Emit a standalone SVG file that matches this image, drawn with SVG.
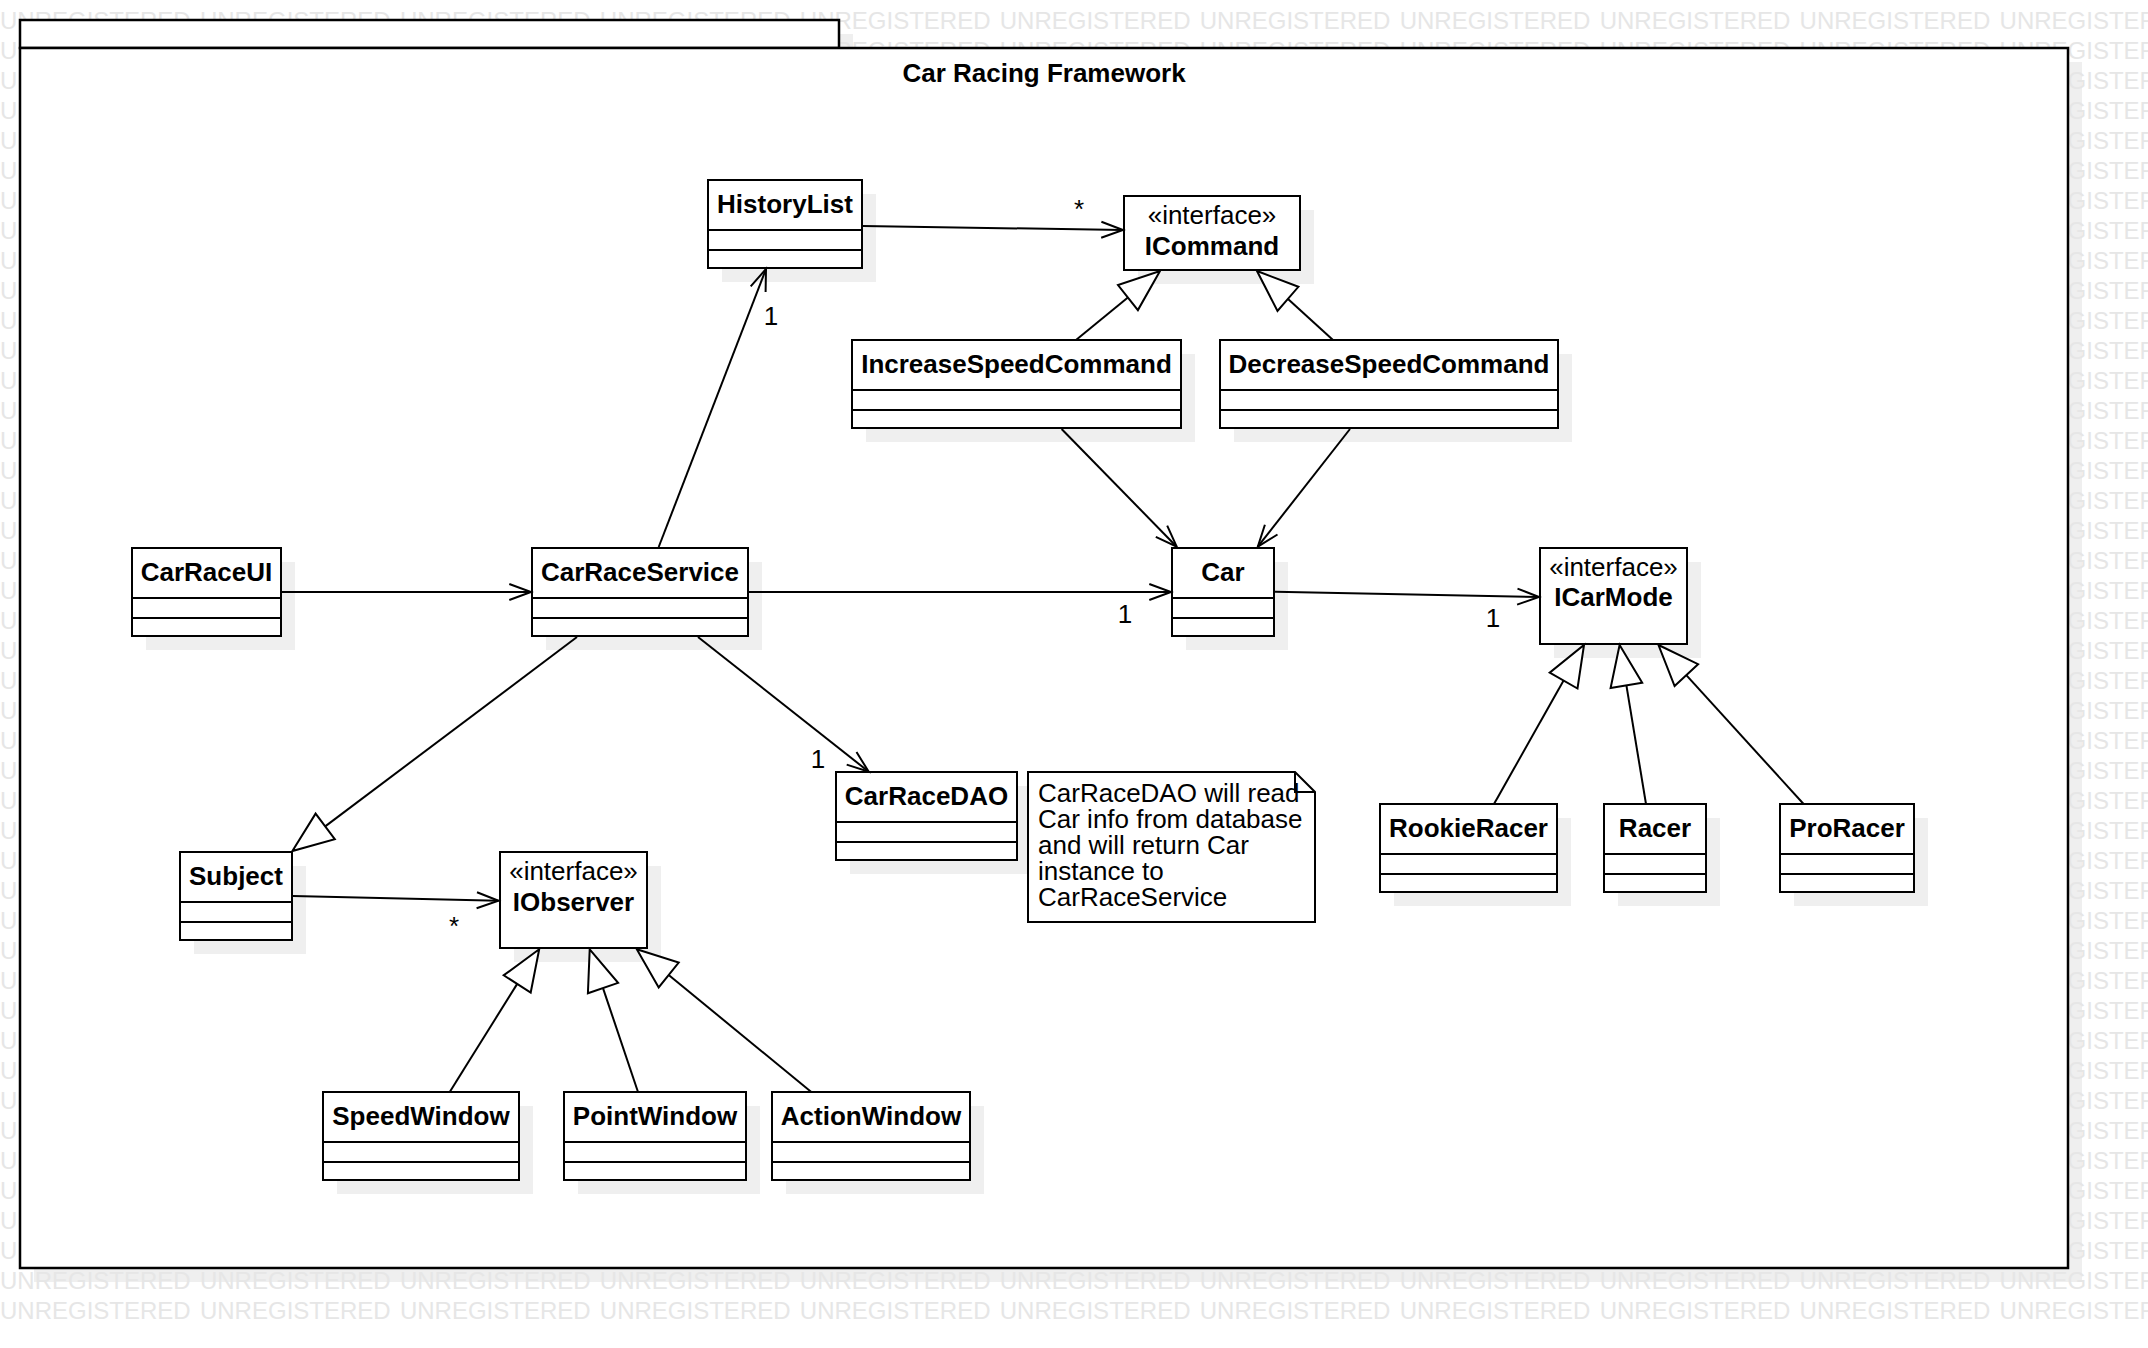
<svg xmlns="http://www.w3.org/2000/svg" xmlns:xlink="http://www.w3.org/1999/xlink" width="2148" height="1348" viewBox="0 0 2148 1348">
<style>
.bg{fill:#fff}
.shadow{fill:#efefef}
.box{fill:#fff;stroke:#000;stroke-width:2}
.pkg{fill:#fff;stroke:#000;stroke-width:2.5}
.sep{stroke:#000;stroke-width:2}
.name{font-family:"Liberation Sans",Arial,sans-serif;font-size:26px;font-weight:bold;text-anchor:middle;fill:#000}
.stereo{font-family:"Liberation Sans",Arial,sans-serif;font-size:26px;text-anchor:middle;fill:#000}
.lbl{font-family:"Liberation Sans",Arial,sans-serif;font-size:26px;text-anchor:middle;fill:#000}
.note{font-family:"Liberation Sans",Arial,sans-serif;font-size:26px;fill:#000}
.edge{stroke:#000;stroke-width:2;fill:none}
.tri{fill:#fff;stroke:#000;stroke-width:2;stroke-linejoin:miter}
.wm{font-family:"Liberation Sans",Arial,sans-serif;font-size:24px;fill:#e6e6e6;word-spacing:2.6px}
</style>
<defs>
<text id="wmrow" class="wm" x="0" y="0">UNREGISTERED UNREGISTERED UNREGISTERED UNREGISTERED UNREGISTERED UNREGISTERED UNREGISTERED UNREGISTERED UNREGISTERED UNREGISTERED UNREGISTERED</text>
</defs>
<rect class="bg" x="0" y="0" width="2148" height="1348"/>
<g id="package-shadow">
<rect class="shadow" x="34" y="34" width="819" height="28"/>
<rect class="shadow" x="34" y="62" width="2048" height="1220"/>
</g>
<g id="watermark">
<use xlink:href="#wmrow" y="29"/><use xlink:href="#wmrow" y="59"/><use xlink:href="#wmrow" y="89"/><use xlink:href="#wmrow" y="119"/>
<use xlink:href="#wmrow" y="149"/><use xlink:href="#wmrow" y="179"/><use xlink:href="#wmrow" y="209"/><use xlink:href="#wmrow" y="239"/>
<use xlink:href="#wmrow" y="269"/><use xlink:href="#wmrow" y="299"/><use xlink:href="#wmrow" y="329"/><use xlink:href="#wmrow" y="359"/>
<use xlink:href="#wmrow" y="389"/><use xlink:href="#wmrow" y="419"/><use xlink:href="#wmrow" y="449"/><use xlink:href="#wmrow" y="479"/>
<use xlink:href="#wmrow" y="509"/><use xlink:href="#wmrow" y="539"/><use xlink:href="#wmrow" y="569"/><use xlink:href="#wmrow" y="599"/>
<use xlink:href="#wmrow" y="629"/><use xlink:href="#wmrow" y="659"/><use xlink:href="#wmrow" y="689"/><use xlink:href="#wmrow" y="719"/>
<use xlink:href="#wmrow" y="749"/><use xlink:href="#wmrow" y="779"/><use xlink:href="#wmrow" y="809"/><use xlink:href="#wmrow" y="839"/>
<use xlink:href="#wmrow" y="869"/><use xlink:href="#wmrow" y="899"/><use xlink:href="#wmrow" y="929"/><use xlink:href="#wmrow" y="959"/>
<use xlink:href="#wmrow" y="989"/><use xlink:href="#wmrow" y="1019"/><use xlink:href="#wmrow" y="1049"/><use xlink:href="#wmrow" y="1079"/>
<use xlink:href="#wmrow" y="1109"/><use xlink:href="#wmrow" y="1139"/><use xlink:href="#wmrow" y="1169"/><use xlink:href="#wmrow" y="1199"/>
<use xlink:href="#wmrow" y="1229"/><use xlink:href="#wmrow" y="1259"/><use xlink:href="#wmrow" y="1289"/><use xlink:href="#wmrow" y="1319"/>
</g>
<g id="package">
<rect class="pkg" x="20" y="20" width="819" height="28"/>
<rect class="pkg" x="20" y="48" width="2048" height="1220"/>
<text class="name" x="1044" y="82">Car Racing Framework</text>
</g>

<g id="HistoryList">
<rect class="shadow" x="722" y="194" width="154" height="88"/>
<rect class="box" x="708" y="180" width="154" height="88"/>
<line class="sep" x1="708" y1="230" x2="862" y2="230"/><line class="sep" x1="708" y1="250" x2="862" y2="250"/>
<text class="name" x="785" y="213">HistoryList</text>
</g>
<g id="ICommand">
<rect class="shadow" x="1138" y="210" width="176" height="74"/>
<rect class="box" x="1124" y="196" width="176" height="74"/>
<text class="stereo" x="1212" y="224">«interface»</text>
<text class="name" x="1212" y="255">ICommand</text>
</g>
<g id="IncreaseSpeedCommand">
<rect class="shadow" x="866" y="354" width="329" height="88"/>
<rect class="box" x="852" y="340" width="329" height="88"/>
<line class="sep" x1="852" y1="390" x2="1181" y2="390"/><line class="sep" x1="852" y1="410" x2="1181" y2="410"/>
<text class="name" x="1016.5" y="373">IncreaseSpeedCommand</text>
</g>
<g id="DecreaseSpeedCommand">
<rect class="shadow" x="1234" y="354" width="338" height="88"/>
<rect class="box" x="1220" y="340" width="338" height="88"/>
<line class="sep" x1="1220" y1="390" x2="1558" y2="390"/><line class="sep" x1="1220" y1="410" x2="1558" y2="410"/>
<text class="name" x="1389" y="373">DecreaseSpeedCommand</text>
</g>
<g id="CarRaceUI">
<rect class="shadow" x="146" y="562" width="149" height="88"/>
<rect class="box" x="132" y="548" width="149" height="88"/>
<line class="sep" x1="132" y1="598" x2="281" y2="598"/><line class="sep" x1="132" y1="618" x2="281" y2="618"/>
<text class="name" x="206.5" y="581">CarRaceUI</text>
</g>
<g id="CarRaceService">
<rect class="shadow" x="546" y="562" width="216" height="88"/>
<rect class="box" x="532" y="548" width="216" height="88"/>
<line class="sep" x1="532" y1="598" x2="748" y2="598"/><line class="sep" x1="532" y1="618" x2="748" y2="618"/>
<text class="name" x="640" y="581">CarRaceService</text>
</g>
<g id="Car">
<rect class="shadow" x="1186" y="562" width="102" height="88"/>
<rect class="box" x="1172" y="548" width="102" height="88"/>
<line class="sep" x1="1172" y1="598" x2="1274" y2="598"/><line class="sep" x1="1172" y1="618" x2="1274" y2="618"/>
<text class="name" x="1223" y="581">Car</text>
</g>
<g id="ICarMode">
<rect class="shadow" x="1554" y="562" width="147" height="96"/>
<rect class="box" x="1540" y="548" width="147" height="96"/>
<text class="stereo" x="1613.5" y="576">«interface»</text>
<text class="name" x="1613.5" y="606">ICarMode</text>
</g>
<g id="RookieRacer">
<rect class="shadow" x="1394" y="818" width="177" height="88"/>
<rect class="box" x="1380" y="804" width="177" height="88"/>
<line class="sep" x1="1380" y1="854" x2="1557" y2="854"/><line class="sep" x1="1380" y1="874" x2="1557" y2="874"/>
<text class="name" x="1468.5" y="837">RookieRacer</text>
</g>
<g id="Racer">
<rect class="shadow" x="1618" y="818" width="102" height="88"/>
<rect class="box" x="1604" y="804" width="102" height="88"/>
<line class="sep" x1="1604" y1="854" x2="1706" y2="854"/><line class="sep" x1="1604" y1="874" x2="1706" y2="874"/>
<text class="name" x="1655" y="837">Racer</text>
</g>
<g id="ProRacer">
<rect class="shadow" x="1794" y="818" width="134" height="88"/>
<rect class="box" x="1780" y="804" width="134" height="88"/>
<line class="sep" x1="1780" y1="854" x2="1914" y2="854"/><line class="sep" x1="1780" y1="874" x2="1914" y2="874"/>
<text class="name" x="1847" y="837">ProRacer</text>
</g>
<g id="Subject">
<rect class="shadow" x="194" y="866" width="112" height="88"/>
<rect class="box" x="180" y="852" width="112" height="88"/>
<line class="sep" x1="180" y1="902" x2="292" y2="902"/><line class="sep" x1="180" y1="922" x2="292" y2="922"/>
<text class="name" x="236" y="885">Subject</text>
</g>
<g id="IObserver">
<rect class="shadow" x="514" y="866" width="147" height="96"/>
<rect class="box" x="500" y="852" width="147" height="96"/>
<text class="stereo" x="573.5" y="880">«interface»</text>
<text class="name" x="573.5" y="911">IObserver</text>
</g>
<g id="CarRaceDAO">
<rect class="shadow" x="850" y="786" width="181" height="88"/>
<rect class="box" x="836" y="772" width="181" height="88"/>
<line class="sep" x1="836" y1="822" x2="1017" y2="822"/><line class="sep" x1="836" y1="842" x2="1017" y2="842"/>
<text class="name" x="926.5" y="805">CarRaceDAO</text>
</g>
<g id="Note">
<polygon class="box" points="1028,772 1295,772 1315,792 1315,922 1028,922"/>
<polyline class="edge" points="1295,772 1295,792 1315,792"/>
<text class="note" x="1038" y="802">CarRaceDAO will read</text>
<text class="note" x="1038" y="828">Car info from database</text>
<text class="note" x="1038" y="854">and will return Car</text>
<text class="note" x="1038" y="880">instance to</text>
<text class="note" x="1038" y="906">CarRaceService</text>
</g>
<g id="SpeedWindow">
<rect class="shadow" x="337" y="1106" width="196" height="88"/>
<rect class="box" x="323" y="1092" width="196" height="88"/>
<line class="sep" x1="323" y1="1142" x2="519" y2="1142"/><line class="sep" x1="323" y1="1162" x2="519" y2="1162"/>
<text class="name" x="421" y="1125">SpeedWindow</text>
</g>
<g id="PointWindow">
<rect class="shadow" x="578" y="1106" width="182" height="88"/>
<rect class="box" x="564" y="1092" width="182" height="88"/>
<line class="sep" x1="564" y1="1142" x2="746" y2="1142"/><line class="sep" x1="564" y1="1162" x2="746" y2="1162"/>
<text class="name" x="655" y="1125">PointWindow</text>
</g>
<g id="ActionWindow">
<rect class="shadow" x="786" y="1106" width="198" height="88"/>
<rect class="box" x="772" y="1092" width="198" height="88"/>
<line class="sep" x1="772" y1="1142" x2="970" y2="1142"/><line class="sep" x1="772" y1="1162" x2="970" y2="1162"/>
<text class="name" x="871" y="1125">ActionWindow</text>
</g>

<g id="connectors">
<line class="edge" x1="281" y1="592" x2="531" y2="592"/>
<polyline class="edge" points="509.3,584 531,592 509.3,600"/>
<line class="edge" x1="748" y1="592" x2="1171" y2="592"/>
<polyline class="edge" points="1149.3,584 1171,592 1149.3,600"/>
<line class="edge" x1="658.7" y1="547" x2="766" y2="269"/>
<polyline class="edge" points="765.6,292.1 766,269 750.7,286.3"/>
<line class="edge" x1="863" y1="226" x2="1123" y2="230"/>
<polyline class="edge" points="1101.2,237.7 1123,230 1101.4,221.7"/>
<line class="edge" x1="1061.6" y1="429" x2="1176.7" y2="546.7"/>
<polyline class="edge" points="1155.8,536.8 1176.7,546.7 1167.2,525.6"/>
<line class="edge" x1="1350" y1="429" x2="1257.8" y2="546.7"/>
<polyline class="edge" points="1264.9,524.7 1257.8,546.7 1277.5,534.5"/>
<line class="edge" x1="1275" y1="591.7" x2="1539" y2="597"/>
<polyline class="edge" points="1517.1,604.6 1539,597 1517.5,588.6"/>
<line class="edge" x1="698" y1="637" x2="868.7" y2="771.7"/>
<polyline class="edge" points="846.7,764.6 868.7,771.7 856.5,752"/>
<line class="edge" x1="293" y1="896" x2="498.5" y2="900.7"/>
<polyline class="edge" points="476.6,908.2 498.5,900.7 477,892.2"/>

<line class="edge" x1="1076" y1="340" x2="1127.9" y2="297.6"/>
<polygon class="tri" points="1160,271 1137.9,310.1 1118,285.1"/>
<line class="edge" x1="1333" y1="340" x2="1288" y2="298.9"/>
<polygon class="tri" points="1257,271 1298.4,286.8 1277.5,311"/>
<line class="edge" x1="577" y1="637" x2="325.2" y2="826.4"/>
<polygon class="tri" points="292.4,851 315.6,813.6 334.8,839.2"/>
<line class="edge" x1="1494" y1="804" x2="1563.6" y2="680.6"/>
<polygon class="tri" points="1584,645 1577.5,688.5 1549.7,672.6"/>
<line class="edge" x1="1646" y1="804" x2="1626.4" y2="685.4"/>
<polygon class="tri" points="1619.6,645 1642.2,682.8 1610.6,688.1"/>
<line class="edge" x1="1803.6" y1="804" x2="1686.3" y2="675.1"/>
<polygon class="tri" points="1658.5,645 1698.1,664.2 1674.6,686"/>
<line class="edge" x1="449.7" y1="1092" x2="517.2" y2="983.9"/>
<polygon class="tri" points="539.2,949.3 530.7,992.5 503.7,975.3"/>
<line class="edge" x1="638" y1="1092" x2="603" y2="988.1"/>
<polygon class="tri" points="589.7,949.3 618.1,982.9 587.9,993.3"/>
<line class="edge" x1="811.3" y1="1092" x2="668.7" y2="975"/>
<polygon class="tri" points="636.8,949.3 678.7,962.6 658.7,987.5"/>

<text class="lbl" x="771" y="325">1</text>
<text class="lbl" x="1079" y="218">*</text>
<text class="lbl" x="1125" y="623">1</text>
<text class="lbl" x="1493" y="627">1</text>
<text class="lbl" x="818" y="768">1</text>
<text class="lbl" x="454" y="935">*</text>
</g>
</svg>
